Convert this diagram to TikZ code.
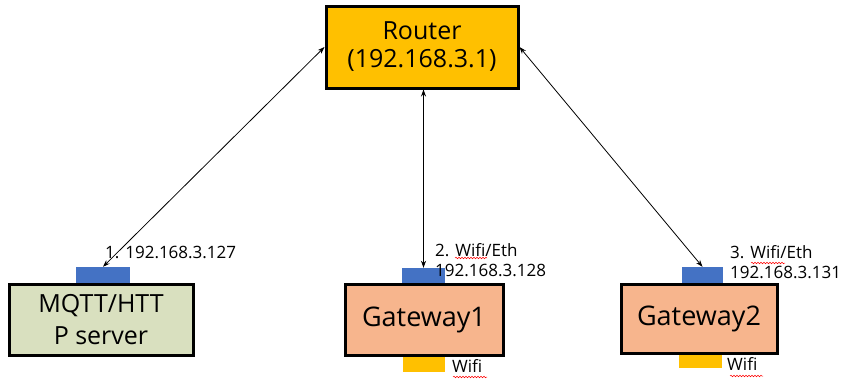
\documentclass[tikz,border=0pt]{standalone}
\usepackage{fontspec}
\setmainfont{Open Sans}
\usetikzlibrary{arrows.meta,decorations.pathmorphing}
\definecolor{routerfill}{HTML}{FFC000}
\definecolor{serverfill}{HTML}{D9E0BF}
\definecolor{gwfill}{HTML}{F7B58D}
\definecolor{portblue}{HTML}{4472C4}
\definecolor{wifiyellow}{HTML}{FFC000}
\begin{document}
\begin{tikzpicture}[x=1pt,y=-1pt]
	\tikzstyle{box}=[draw,line width=3pt,align=center,inner sep=0]
	\tikzstyle{port}=[fill=portblue,inner sep=0]
	\tikzstyle{wifi}=[fill=wifiyellow,inner sep=0]
	\tikzstyle{lab}=[anchor=west,inner sep=0,align=left,font=\fontsize{17}{20}\selectfont]
	\tikzstyle{link}=[line width=0.8pt,{Stealth[length=7pt,width=5pt]}-{Stealth[length=7pt,width=5pt]}]
	\tikzstyle{spell}=[red,line width=0.5pt,decorate,decoration={snake,amplitude=0.8pt,segment length=3pt}]
	\useasboundingbox (0,0) rectangle (846,381);
	\node[port,minimum width=54,minimum height=22] (p1) at (103,278) {};
	\node[port,minimum width=43,minimum height=17] (p2) at (423.5,276.5) {};
	\node[port,minimum width=41,minimum height=16] (p3) at (702.5,275) {};
	\node[wifi,minimum width=42,minimum height=16] (w1) at (424,364) {};
	\node[wifi,minimum width=43,minimum height=15] (w2) at (700.5,360.5) {};
	\node[box,fill=routerfill,minimum width=192,minimum height=82,font=\fontsize{25}{28}\selectfont] (router) at (422,47) {Router\\(192.168.3.1)};
	\node[box,fill=serverfill,minimum width=184,minimum height=71,font=\fontsize{25}{32}\selectfont] (server) at (101,320) {MQTT/HTT\\P server};
	\node[box,fill=gwfill,minimum width=158,minimum height=71,font=\fontsize{27}{30}\selectfont] (gw1) at (424,320) {Gateway1};
	\node[box,fill=gwfill,minimum width=156,minimum height=69,font=\fontsize{27}{30}\selectfont] (gw2) at (699,318.5) {Gateway2};
	\node[lab] (lab1) at (105,252) {1. 192.168.3.127};
	\node[lab] (lab2) at (435,260) {2. Wifi/Eth\\192.168.3.128};
	\node[lab] (lab3) at (730,262) {3. Wifi/Eth\\192.168.3.131};
	\node[lab] (wt1) at (452,366) {Wifi};
	\node[lab] (wt2) at (727,364) {Wifi};
	% spell check marks
	\draw[spell] (455,258) -- (487,258);
	\draw[spell] (751,263) -- (785,263);
	\draw[spell] (453,377) -- (487,377);
	\draw[spell] (730,376) -- (763,376);
	\draw[link] (router.west) -- (p1.north);
	\draw[link] (router.south -| p2.north) -- (p2.north);
	\draw[link] (router.east) -- (p3.north);
\end{tikzpicture}
\end{document}
